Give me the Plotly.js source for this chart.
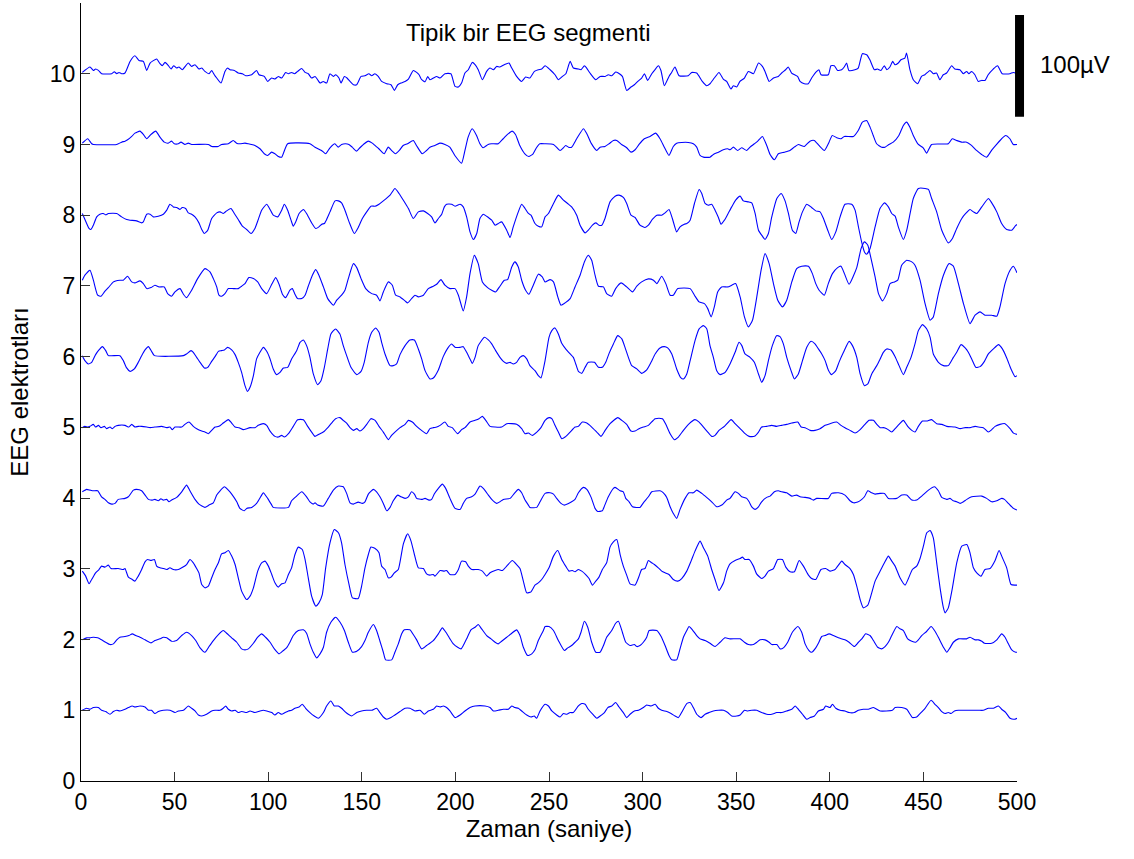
<!DOCTYPE html>
<html>
<head>
<meta charset="utf-8">
<script src="https://cdn.plot.ly/plotly-3.0.1.min.js"></script>
<style>html,body{margin:0;padding:0;background:#fff;}#chart{width:1134px;height:859px;}</style>
</head>
<body>
<div id="chart"></div>
<script>
// Each channel: [time (s), amplitude (µV)]
const ch10 = [[0.7,1.3],[4.8,6.7],[6.6,3.3],[7.8,4.7],[9.3,3.3],[11,0],[16.4,0],[17.8,2],[19.1,0],[20.3,1.3],[21.7,0],[23.5,0.7],[26.2,12.3],[28.8,18],[31,13.3],[33.3,12.3],[35.1,3.3],[36.9,10.7],[40.4,14.7],[42.2,10],[43.4,8],[44.9,11.3],[46.7,8],[48.1,4.7],[49.5,8],[51.1,5.7],[52.3,6.7],[54.1,4],[57.3,10.7],[59.1,7.3],[60.9,9],[63,4.7],[64.5,5.7],[66.2,2.3],[68.4,0],[69.8,3.3],[71.2,-1],[72.5,-4.3],[74.8,-9.3],[76.9,2.3],[78.3,5.7],[79.6,4],[81.9,3.3],[84,0.7],[86.2,0],[88,-2],[91.2,-1],[93.8,3.3],[95.1,-1],[97.9,-2.7],[99.7,-7.7],[101.8,-4.3],[103.6,-5.3],[105.4,-2.7],[107.2,-4.3],[109.3,1.3],[110.8,0],[112.5,1.3],[114,0],[115.7,2.3],[117.9,5.3],[119.7,1.3],[121.4,0],[123.2,-4.3],[125,-2.7],[126.4,-6],[127.7,-9.3],[129.4,-7.7],[131.2,-9.3],[133,0],[134.8,-2.7],[136,-1],[137.8,-4.3],[138.9,-9.3],[140.7,-2.7],[142.1,-4.3],[143.7,-7.7],[145.5,-11],[147.3,-11],[149.6,-2.7],[151.7,-2],[153.8,0],[155.3,-2],[157,0],[158.8,-2.7],[160.6,-7.7],[163.3,-10],[165.6,-11],[167.4,-16.7],[169.2,-11],[170.9,-9.3],[173.1,-7.7],[174.9,-5.3],[177.5,3.3],[179.3,1.3],[180.6,-1],[182,-6],[183.8,-8],[185.2,-2.7],[186.4,-6],[188.2,-4.3],[190,-2.7],[191.8,-4.3],[194.4,0],[197.6,0],[199.8,-12.7],[201.6,-13.3],[203.3,-9.3],[205.1,0.7],[206.9,4],[209,11.3],[210.5,9],[212.2,4],[214.4,-6],[216.7,2.3],[218.5,5.7],[220.3,4],[222,7.3],[223.8,6.7],[226.1,9],[228.6,10.7],[230.1,5.7],[232.7,-2.7],[235.4,-7.7],[237.5,-3.3],[239.8,-4.3],[242.2,2.3],[244.3,4],[246.1,4.7],[247.9,8],[250.6,4],[253.2,-1],[255,-6],[257.2,-2.7],[259,0],[261.3,12.3],[263,5.7],[265.7,4.7],[267.1,4],[268.9,8],[270.1,5.7],[271.9,0.7],[275,-6],[277.3,-2.7],[280,-2.7],[281.7,-1],[283.5,-2],[285.6,1.7],[287,0.7],[289.2,-2.7],[291.5,-16.7],[293.8,-13.3],[295.6,-11],[297.4,-7.7],[299.5,-4.3],[301,0],[302.7,-6.7],[304.9,0],[306.6,4],[308.4,8],[309.8,3.3],[311.6,-12],[314.1,-2.7],[315.5,1.3],[317.3,6.7],[319.5,-2],[324.4,-2],[326.2,1.3],[328.9,0.7],[331.9,-7.7],[334.2,-12],[336,-10],[338.3,-4.3],[340.8,1.3],[343.1,-5.3],[344.9,-7.7],[347.2,-15.3],[348.5,-12],[350.3,-13.3],[352,-7.7],[354.4,-4.3],[356.5,2.3],[359.2,0],[361.9,10.7],[364,7.3],[365.4,2.3],[367.6,-7.7],[369.9,-4.3],[372.5,-2.7],[374.3,0.7],[376.4,4],[377.8,6.7],[379.6,0.7],[382.8,-2.7],[384.1,-7.7],[386.4,-10],[388.5,-10],[390.3,-4.3],[393,2.3],[394.2,4],[395.3,-1],[399.2,-1],[400.6,8],[402.4,8],[404.2,3.3],[406.3,4],[407.7,6.7],[409,10.7],[410.2,3.3],[413.4,4],[415.2,5.7],[417.4,20],[419.7,19],[421.4,14],[423.8,4],[425.5,4.7],[427.3,3.3],[429.1,8],[430.5,4],[432.1,6.7],[433.6,12.3],[434.8,9],[436.6,10.7],[438,14],[440.1,15.7],[441,20.7],[442.8,4],[444.6,-6],[446.9,-10],[449,-2.7],[450.8,-1],[453.5,3.3],[455.3,0],[457,0.7],[458.8,-6],[460.6,-1],[462.4,0.7],[465.1,8],[466.8,4.7],[469.5,4],[471.3,0],[473.1,2.3],[474.3,0],[475.7,2.3],[477.5,-1],[479.3,-7.7],[481.1,-6.7],[482.9,-6.7],[484.6,-1],[487.3,4.7],[489.6,8],[492.1,0],[496.2,0],[498,1.3],[500,0]];

const ch9 = [[0.7,1.3],[3.6,5.7],[5.7,0.7],[6.6,0],[19,0],[21.7,2.3],[23.5,3.3],[24.9,4.7],[27.1,8],[28.8,11.3],[31.5,13.3],[33.3,10],[35.1,5.7],[37.4,10],[39.9,13.3],[42.2,7.3],[44.5,2.3],[46.6,1.3],[48.4,3.3],[49.8,0.7],[52,0.7],[53.4,2.3],[55.5,0],[57.3,1.3],[59.1,0],[68,0],[69.8,-2],[73.3,-2],[75.1,0],[78.7,0.7],[81.3,4],[83.1,1.3],[84.9,0.7],[87.6,1.3],[89.4,0.7],[91.1,0],[92.9,-1],[95.6,-4.3],[97.9,-9.3],[99.7,-11],[101.8,-7.7],[103.6,-9.3],[105.4,-12],[107.2,-12.7],[110.4,0.7],[122.3,0.7],[125,-2.7],[128.5,-6],[130.7,-9.3],[133,-3.3],[135.6,0.7],[137.4,-2.7],[139.2,0],[141.3,0.7],[143.1,0],[144.9,-2.7],[147.2,-6.7],[149,-3.3],[151.3,0.7],[153.4,3.3],[155.6,1.3],[157,-1],[159.1,-4.3],[162,-9.3],[164.1,-2.7],[166.3,-6.7],[168,-9.3],[170.3,-5.3],[172.1,-1],[174.4,0.7],[177.5,4],[179.2,-1],[182.3,-9.3],[184.6,-6],[186.4,-2.7],[189,-1],[191.7,1.3],[194.4,0],[197,-2.7],[199.7,-11],[203.3,-18.7],[205.1,-6],[206.8,7.3],[209,15.7],[211.3,9],[213.1,0.7],[214.8,-3.3],[217.5,0],[219.3,0.7],[222.9,0.7],[225.5,5.7],[227.8,10],[230.3,13.3],[232.1,10],[234.4,-1],[237.1,-9.3],[239.2,-12],[241.5,-9.3],[243.3,-3.3],[245.1,0.7],[247.9,0.7],[252.4,0],[255.9,-6],[257.7,-3.3],[258.9,-1],[260.4,-2.7],[262.1,-2.7],[264.8,5.7],[268.4,15.7],[270.2,10.7],[272.5,1.3],[275.5,-6],[277.3,-2.7],[279.9,-2],[282.1,0.7],[284.4,4],[286.2,4],[288.8,0],[291.5,-3.3],[293.8,-7.7],[296,-5.3],[298.1,0],[300.9,5.7],[304,8],[307,11.3],[309.3,5.7],[311.6,-2.7],[314.1,-11],[316.4,-2],[318.2,1.3],[320.9,2],[324.4,2],[327.1,0.7],[328.9,-2.7],[330.7,-11],[332.5,-12.7],[336,-12.7],[337.8,-10],[340.5,-7.7],[343.1,-5.3],[345.4,-4.3],[346.7,-5.3],[348.5,-2.7],[350.8,-6],[352.9,-3.3],[355.6,-6],[357.4,-2.7],[359.7,0.7],[361.5,3.3],[364,8],[366.3,-1],[368.1,-10],[370.4,-15.3],[372.5,-9.3],[375.7,-7.7],[378.7,-6],[381,-2.7],[383.2,0],[386.4,-2],[389.4,3.3],[391.7,4],[394.2,-1],[397.1,-6],[399.6,2.3],[401.3,9],[403.7,6.7],[406,5.7],[407.7,8],[412.6,8],[415.2,14],[417.4,22.3],[419.7,24],[421.5,17.3],[423.2,9],[425,0.7],[427.7,-2.7],[429.5,-2.7],[431.6,0],[433.9,2.3],[436.9,9],[439.3,19],[441,22.3],[442.8,17.3],[444.6,9],[447.3,0],[449.9,-3.3],[451.7,-8.7],[454.4,0],[463.3,0.7],[465.4,5.7],[467.7,4],[470.4,2.3],[473.1,2.3],[475.7,-1],[478.4,-6],[481.1,-10],[483.8,-12.7],[486.4,-6],[489.1,0],[491.8,5.7],[493.9,9],[496.2,5.7],[498,0],[500,0]];

const ch8 = [[0.7,1.7],[2.1,-4.3],[4.3,-13.3],[5.3,-14.3],[6.6,-10],[8.4,-1.7],[10.1,1],[11.9,1.7],[13.2,0.3],[14.6,1.7],[19.1,1.7],[21.7,-1.7],[24.4,-4.3],[26.2,-5],[29.7,-5.7],[32.4,-7.7],[33.3,-6.7],[35.1,1],[36.9,1],[38.6,-1.7],[41.3,-1],[44,1],[45.8,5],[47.5,11],[49.3,8.3],[51.1,7.7],[52.9,5.7],[54.1,7.7],[55.9,6.7],[57.3,2.3],[59.1,1],[60.9,-1.7],[63,-7.7],[64.5,-14.3],[65.9,-18.3],[67.7,-15],[69.8,-3.3],[72.5,2.3],[74.3,3.3],[76,1.7],[77.8,4.3],[80.1,6.7],[81.9,1.7],[84,-4.3],[86.2,-11],[88.5,-14.3],[90.8,-18.3],[92.9,-13.3],[94.7,-4.3],[96.5,5],[99.2,11],[101,5.7],[102.7,0],[105.1,-1.7],[107.2,5],[108.6,11],[110.4,5],[112.2,-5],[113.4,-11],[114.7,-6.7],[116.5,1.7],[118.8,5.7],[120.5,1.7],[123.2,-7.7],[125.4,-13.3],[127.1,-11.7],[128.6,-9],[130,-8.3],[131.2,-4.3],[133,3.3],[135.7,14.3],[137.5,14.3],[139.2,12.3],[141,5],[143.2,-6.7],[146,-18.3],[148.1,-12.3],[150.3,-3.3],[152.6,3.3],[154.9,9],[157.1,9],[159.2,11],[161.5,14.3],[165.1,20],[167.7,26.7],[169.9,21.7],[172.2,15],[174.9,6.7],[177.5,-3.3],[180.2,3.3],[182.9,4.3],[185.2,1.7],[187.3,-1.7],[189.1,-7.7],[190.9,-3.3],[192.7,1],[194.1,8.3],[195.3,11],[198,11],[199.8,9],[202.5,11],[204.2,8.3],[206,-1.7],[207.8,-16.7],[209.6,-24.3],[211.4,-18.3],[213.1,-3.3],[214.9,1],[217.6,-2.3],[219.4,-5],[221.2,-10],[222.9,-8.3],[224.7,-6.7],[227.4,-15],[229.2,-22.3],[230.9,-11.7],[233.6,3.3],[235.4,11],[237.2,6.7],[239,1.7],[240.4,0],[242.5,-8.3],[244.3,-11],[246.1,-11.7],[247.9,-1.7],[249.7,1.7],[252.4,11.7],[255,20],[257.7,15],[260.4,11],[262.1,8.3],[264.8,0],[266.6,-10],[269.3,-17.7],[271,-15],[273.2,-10],[275,-7.7],[276.7,-10],[278.2,-10],[279.9,-3.3],[282.6,13.3],[285.3,19],[287.4,20],[289.7,17.7],[291.5,11.7],[293.8,0],[296,-2.3],[298.6,-10],[301.3,-12.3],[303.1,-10],[305.2,-4.3],[307.6,0],[310.2,0],[312,2.3],[314.1,5.7],[315.9,-3.3],[318.2,-16.7],[320,-11.7],[322.3,-9],[323.6,-8.3],[325.4,-5],[327.7,11.7],[330.2,25.7],[331.6,21.7],[333.4,11.7],[335.1,10],[336.9,11],[338.7,5],[340.5,-2.3],[341.9,-9],[343.7,-5],[345.5,1],[347.6,8.3],[349.7,15],[352.1,19],[353.8,14.3],[356.5,13.3],[358.3,12.3],[360.1,1.7],[361.9,-15],[364,-21],[365.4,-24.3],[367.2,-18.3],[369,-1.7],[371.7,16.7],[374,21.7],[376.1,14.3],[377.9,1.7],[380,-15],[381.8,-18.3],[383.6,-6.7],[385.4,3.3],[387.7,11],[390.3,7.7],[392.5,4.3],[394.8,3.3],[396.6,-3.3],[398.9,-15],[401,-24.3],[403.2,-16.7],[405.5,-1.7],[408.1,11],[411.7,11],[413.5,5],[415.3,-11.7],[417,-26.7],[418.5,-36.7],[419.7,-39],[421.5,-33.3],[424.2,-11.7],[426.8,6.7],[429.2,12.3],[431.3,8.3],[433.1,1.7],[434.9,-1],[436.6,-11.7],[439.3,-24.3],[441.1,-15],[442.9,1.7],[444.6,16.7],[447.3,26.7],[450.9,26.7],[452.7,25.7],[454.4,16.7],[457.1,3.3],[459.8,-15],[463.3,-27.7],[465.5,-23.3],[467.8,-13.3],[470.5,-3.3],[472.6,1.7],[474.9,5.7],[476.7,3.3],[478.5,1.7],[481.2,8.3],[484.7,16.7],[486.5,12.3],[489.2,3.3],[491.8,-8.3],[494.5,-14.3],[497.2,-15],[499,-11],[500,-9.3]];

const ch7 = [[0.7,5.7],[2.1,10.7],[4.8,15.7],[6.6,5.7],[8.9,-9.3],[10.7,-10.3],[12.5,-6],[14.6,-1.7],[17.3,4],[18.5,5],[20.8,5.7],[22.6,5.7],[24.9,9.7],[27.1,4],[28.8,3],[31.5,5],[33.3,2.3],[35.1,-2.7],[37.4,-1.7],[39.5,0.7],[41.7,-1],[44.5,-1],[46.3,-7.7],[48.4,-10.3],[50.2,-6],[52.9,-2.7],[54.7,-8.3],[56.4,-11.7],[59.1,-4.3],[62.3,7.3],[66.2,17.3],[68.9,14],[70.7,7.3],[72.5,-1],[73.7,-9.3],[75.1,-10.3],[76.9,-7.7],[78.7,-2.7],[81.4,-2.7],[84,-2.7],[85.8,-0.3],[87.6,2.3],[89.7,8.3],[92.1,7.3],[94.4,4],[96.5,-2.7],[99.2,-7.7],[101.9,1.7],[104,8.3],[105.8,1.7],[107.6,-8.3],[109.3,-11.7],[111.6,-4.3],[112.9,-2.7],[114.3,-8.3],[115.7,-12.7],[117.9,-12.7],[119.7,-9.3],[121.4,-0.3],[123.6,10.7],[125.4,16.3],[127.1,10.7],[129.5,-1],[131.8,-12.7],[134.8,-19.3],[136.6,-14.3],[139.2,-9.3],[141,-4.3],[142.8,7.3],[145.5,22.3],[147.3,18.3],[149.6,7.3],[152.1,-2.7],[155.3,-7.7],[157.9,-9.3],[159.7,-15],[161.5,-6],[164.2,4],[166.3,0.7],[168.1,-9.3],[170.4,-11],[173.1,-15],[174.5,-17],[176.6,-12.7],[178.4,-9.3],[180.2,-11],[182.9,-9.3],[185.5,-2.7],[188.2,-0.3],[190,1.7],[192.3,6.3],[194.4,0.7],[197.1,-2.7],[199.8,-2.7],[201.6,-9.3],[204.2,-25],[206,-11],[207.8,12.3],[210.1,30.7],[212.2,22.3],[214.4,4],[217.2,-1.7],[219.4,-4.3],[221.5,-6],[223.8,-0.3],[226.1,5.7],[227.9,6.3],[230.1,19],[231.8,24],[233.6,19],[235.4,5.7],[237.5,-4.3],[239.3,-8.3],[241.6,0.7],[244.3,11.7],[246.4,9],[247.9,4],[250.6,6.3],[252.4,4],[254.7,-11],[256.4,-19.3],[258.6,-17],[261.3,-12.7],[263.9,-1],[266.6,10.7],[268.9,24],[271,30.7],[272.8,25.7],[274.6,10.7],[276.4,-0.3],[279.1,-1],[280.8,-7.7],[283.5,-10.3],[285.6,-2.7],[288.5,3],[291.5,-1],[294.6,-6],[296.9,-0.3],[299.5,4],[303.1,7],[305.8,5.7],[307.6,2.3],[310.2,9.7],[312.4,2.3],[314.7,-9.3],[316.4,-9.3],[318.8,-2.7],[325.4,-2.7],[327.7,-9.3],[330.2,-16],[333,-17.7],[334.8,-22.7],[336.6,-31],[338.3,-21],[340.1,-6],[342.2,-1],[345.5,-1],[347.6,0.7],[349.7,2.3],[352.1,-11],[354.4,-31],[356.5,-41],[358.7,-34.3],[361,-11],[363.3,15.7],[365.4,32.3],[367.6,22.3],[369.9,2.3],[372.2,-14.3],[374.7,-21],[377,-14.3],[379.7,4],[382.3,17.3],[385,19.7],[388.6,19.7],[390.7,12.3],[392.5,2.3],[394.3,-4.3],[397.1,-9.3],[399.2,2.3],[401.4,12.3],[404.2,18.3],[406,19.7],[407.8,12.3],[410.3,1.7],[414.4,18.3],[416.7,37.3],[418.5,44],[420.3,40.7],[421.5,31.7],[424.2,9],[426,-7.7],[428.1,-15],[430.4,-7.7],[432.2,2.3],[434.5,4],[436.3,5.7],[438.4,20.7],[441.1,25.7],[443.8,24],[445.5,20.7],[448.2,5.7],[450.9,-17.7],[453.6,-34.3],[455.3,-31],[458,-7.7],[460.7,10.7],[463.7,22.3],[466,19.7],[468.7,2.3],[471.4,-17.7],[474.9,-37.7],[477.6,-29.3],[480.3,-26],[482.9,-29.3],[486.5,-29.3],[489.2,-30.3],[490.9,-21],[493.6,2.3],[496.3,15.7],[498.1,19.7],[500,13]];

const ch6 = [[0.7,1],[2.1,-4],[3.9,-7.3],[5.7,-5.7],[7.8,2],[9.6,6.7],[11.4,10],[13.2,6],[14.6,1],[20.8,1],[22.6,-4],[24.4,-11.3],[26.2,-14.7],[28.5,-12.3],[30.6,-5.7],[32.4,1],[34.2,6.7],[36,10],[37.7,5.3],[39.2,1],[54.7,1],[56.4,2.7],[58.8,6],[60,4.3],[61.8,-0.7],[63.6,-5.7],[65.9,-11.3],[67.7,-10.7],[69.8,-4.7],[71.6,0],[73.4,5.3],[75.1,6],[76.6,6.7],[78.3,9.3],[80.5,6.7],[82.3,2],[84,-5.7],[85.8,-15.7],[87.6,-29],[88.9,-34.7],[90.3,-30.7],[92.1,-19],[93.8,-2.3],[95.6,4.3],[97.4,9.3],[99.2,5.3],[101,-2.3],[102.7,-12.3],[104.5,-18],[106.3,-15.7],[108.1,-11.3],[110.4,-10.7],[112.5,-2.3],[115.2,6],[117,14.3],[118.8,16.7],[120.5,11],[122.3,-0.7],[124.1,-17.3],[126.4,-28],[128.2,-24],[130,-10.7],[131.8,7.7],[133.5,22.7],[136,27.7],[138.3,22.7],[140.1,11],[141.9,1],[144.2,-10.7],[147.3,-18],[149.6,-14.7],[151.3,-5.7],[153.5,14.3],[155.3,24.3],[157.4,28.7],[159.2,24.3],[160.6,14.3],[162.4,2.7],[165.1,-9],[166.8,-9],[168.6,-7.3],[170.4,2],[173.1,11],[175.7,16.7],[178.1,16.7],[180.2,7.7],[182,-2.3],[183.8,-14],[186.4,-22.3],[188.2,-21.3],[190.9,-13.3],[193.5,0],[196.2,9.3],[198,12.7],[199.8,9.3],[202.5,9.3],[204.2,10],[206,4.3],[207.8,-2.3],[209,-6.7],[210.5,-0.7],[212.2,11],[215.5,19.3],[217.6,16.7],[219.4,12.7],[221.5,6],[223.8,-0.7],[225.6,-4.7],[227.4,-6.7],[229.2,-5.7],[230.9,-7.3],[232.7,-5.7],[234.5,-0.7],[236.3,1],[238.1,-2.3],[239.8,-9],[242.5,-14],[244.3,-19],[245.7,-21.3],[247.9,-4],[250,19.3],[251.5,26],[253.2,28.7],[255,22.7],[256.8,13.3],[258.9,7.7],[261.3,2.7],[263,-0.7],[264.3,-7.3],[265.7,-14.7],[267.5,-16.7],[269.3,-10.7],[271,-5.7],[274.3,-5.7],[276.4,-10.7],[278.5,-10.7],[280.3,-5.7],[282.1,3.3],[284.4,12.7],[286.7,21],[288.9,17.7],[290.6,9.3],[292.4,-0.7],[294.2,-9],[296.9,-12.3],[299.5,-16.7],[302.2,-13.3],[304.5,-5.7],[306.7,2.7],[309.3,8.7],[311.6,10],[313.4,8.7],[315.6,2.7],[318.2,-12.3],[320.5,-21.3],[321.8,-22.3],[323.6,-17.3],[325.4,-4],[328,16],[330.2,27.7],[332.5,31],[334.3,27.7],[336,11],[337.8,-0.7],[339.6,-14],[341.4,-18],[344.1,-15.7],[346.7,-7.3],[349.4,4.3],[351.5,14.3],[353,11],[354.7,2.7],[357.4,-0.7],[359.7,-5.7],[361.9,-17.3],[363.6,-25.7],[365.4,-19],[367.2,-4],[369.3,11],[371.6,21],[373.4,20],[375.2,12.7],[377,-0.7],[379.3,-14],[381.1,-22.3],[383.2,-17.3],[385.4,-4],[387.7,9.3],[390,15.3],[392.1,12.7],[393.9,7.7],[395.7,2.7],[397.5,-4],[399.2,-13.3],[401,-18],[403.2,-14],[404.9,-5.7],[407.3,4.3],[410.3,15.3],[412.1,11],[414.4,-0.7],[416.2,-17.3],[418.5,-29],[420.3,-27.3],[422.4,-17.3],[425.1,-9],[426.9,-2.3],[428.6,4.3],[430.4,7.7],[432.7,6.7],[434.9,0],[437,-9],[439.3,-18],[441.1,-10.7],[443.4,-0.7],[445.5,12.7],[447.3,26],[449.5,32],[451.8,27.7],[453.6,19.3],[455.3,2.7],[458,-5.7],[460.7,-9],[463.3,-9],[466,-0.7],[467.8,4.3],[470.1,12],[472.3,8.7],[474,4.3],[476.2,-4],[478,-10.7],[480.3,-10],[482.6,-4.7],[484.7,2.7],[487.4,7.7],[490.1,12],[492.2,7.7],[494.5,-1.3],[496.8,-12.3],[499,-20],[500,-19]];

const ch5 = [[0.7,-0.3],[2.1,1],[3.6,0.3],[4.8,1],[6.6,3],[7.8,0.3],[9.3,2],[10.7,-0.3],[12.5,1],[13.7,-1.3],[15.5,0.3],[16.7,-1.3],[18.2,1],[19.9,2],[23.5,2],[25.6,0.3],[27.1,3],[28.8,0.3],[30.6,1],[32.4,1],[35.1,0.3],[36.9,-0.3],[39.5,0.3],[43.1,1],[45.8,-0.3],[47.5,0.3],[48.8,-2.3],[50.2,0.3],[53.8,0.3],[55.5,3],[57.7,5.3],[60,1],[61.8,-1.3],[64.5,-3.7],[66.2,-4.7],[68,-6.3],[69.8,-3],[71.6,0.3],[73.7,1],[76,4.3],[78.7,7.7],[80.5,4.3],[82.3,0.3],[84.4,-0.3],[86.7,-2.3],[88.5,-1.3],[90.3,-0.3],[92.9,-0.3],[94.7,2],[97.4,3.7],[99.2,2],[101,-3.7],[103.6,-9],[105.4,-9.7],[107.2,-8],[108.6,-9.7],[110.8,-6.3],[113.4,1],[115.7,7.7],[118.8,7.7],[121.1,1],[123.2,-4.7],[125,-9],[127.7,-6.3],[129.4,-4.7],[132.1,0.3],[134.3,5.3],[136,8.7],[138.3,9.7],[140.1,7],[141.9,4.3],[143.7,-0.3],[145.5,-3],[147.3,-1.3],[149,-3.7],[150.8,-1.3],[152.6,3],[154.9,8.7],[157.1,7],[159.2,1],[161.5,-4.7],[164.2,-12.3],[165.9,-8],[167.7,-4.7],[170.4,-0.3],[173.1,3],[174.9,7],[177,5.3],[179.3,1],[181.9,-3],[184.6,-6.3],[186.4,-1.3],[188.2,-0.3],[190,0.3],[191.8,2],[194.4,5.3],[196.2,1],[198.3,-0.3],[201.2,-6.3],[203.3,-2.3],[205.1,-0.3],[207.8,5.3],[210.5,7],[212.6,8.7],[214.4,11],[216.2,7],[218.5,1],[221.2,0.3],[224.7,0.3],[227.4,3.7],[230.1,3.7],[232.7,3],[235.4,-1.3],[237.2,-6.3],[239,-5.7],[241.1,-8],[243.5,-4.7],[245.7,-0.3],[247.9,7],[250,9.7],[251.5,8.7],[253.2,2],[255,-4.7],[256.8,-11.3],[258.6,-9.7],[261.3,-4.7],[263.9,0.3],[265.7,1],[267.8,5.3],[270.2,4.3],[272.8,0.3],[275.5,-4.7],[277.8,-9],[280,-3],[282.6,3.7],[286.7,9.7],[288.9,7],[291.5,3],[293.8,-3.7],[296,-3.7],[298.1,-1.3],[300.4,0.3],[303.1,2],[306.7,8.7],[310.6,8.7],[312.4,3],[314.7,-6.3],[317,-12.3],[319.1,-9.7],[321.8,-3],[324.5,3],[328,7.7],[330.2,5.3],[332.5,0.3],[334.8,-4.7],[336.9,-9],[338.7,-8],[340.8,-3],[343.7,1],[347.3,7.7],[349.4,3.7],[352.1,-1.3],[354.4,-5.7],[356.9,-9],[359.7,-9],[361.9,-4.7],[363.6,0.3],[366.3,1],[369,2],[371.6,1],[374.3,2],[377,3],[379.7,4.3],[382.9,5.3],[384.7,0.3],[386.8,-0.3],[389.5,-3],[392.1,-3],[394.8,-1.3],[397.5,2],[400.1,3.7],[403.7,5.3],[406,2],[408.1,-0.3],[410.8,-3],[413.5,-5.7],[416.2,-2.3],[418.8,3],[421,7],[423.3,7],[425.1,3],[426.9,-0.3],[428.6,-0.3],[430.4,-1.3],[433.1,-4.7],[434.9,-1.3],[437,3],[439.3,7],[441.6,1],[443.8,-3],[445.5,-4.7],[447.3,1],[449.5,6.3],[451.8,6.3],[454.4,7.7],[457.1,3.7],[459.8,3],[462.5,1],[466.9,0.3],[469.6,-1.3],[472.3,-0.3],[474.9,-0.3],[477.6,1],[479.4,0.3],[482,-0.3],[484.7,-4.7],[486.5,-2.3],[488.3,1],[490.9,3],[493.6,3.7],[496.3,-1.3],[498.1,-5.7],[500,-7]];

const ch4 = [[0.7,6.3],[3,8.7],[4.8,8],[6.6,7.3],[8.9,7.3],[11,1.3],[12.8,-1.3],[14.6,-4.7],[16.4,-6],[18.2,-5.3],[19.9,-1.3],[23.5,-0.3],[25.3,1.3],[28,8],[29.7,8.7],[32.4,7.3],[34.2,3],[36,-1.3],[38.1,-2],[39.5,-1.3],[41.3,-2.7],[42.7,-0.7],[44,-2],[45.8,-1.3],[47,-3.7],[48.4,-2],[51.1,0.7],[53.8,6.3],[56.4,13],[58.2,7.3],[60.9,-1.3],[63,-6],[66.2,-9.3],[68.4,-7],[70.7,-4.7],[72.5,3],[74.3,7.3],[76.6,11.3],[78.7,8],[80.5,4],[83.2,-3.7],[84.9,-10.3],[87.2,-12.7],[88.5,-10.3],[91.2,-9.3],[93.8,-5.3],[96.5,3],[97.4,5.3],[99.7,-0.3],[101.9,-7],[102.7,-9.3],[110.8,-9.3],[112.5,-2.7],[115.2,2],[117.9,6.3],[120.5,1.3],[122.3,-3.7],[124.1,-6],[125,-4.7],[126.4,-7],[129.5,-8],[132.1,-0.3],[134.8,8],[137.5,12],[140.1,11.3],[141.9,4.7],[143.7,-4.7],[145.5,-6],[148.1,-4],[150.3,-5.3],[151.7,-3.7],[153.5,4],[156.2,8.7],[157.9,6.3],[159.7,1.3],[161.5,-5.3],[163.3,-12.7],[165.1,-9.3],[166.8,-2.7],[169.2,3],[170.9,1.3],[173.1,-0.3],[174.9,1.3],[176.6,6.3],[178.1,4],[179.3,-0.3],[182,-1.3],[183.8,-0.3],[185.9,-2],[187.3,-1.3],[188.7,4],[190.9,9.7],[193,14],[194.8,9.7],[197.1,-0.3],[199.8,-10.3],[202.5,-11.3],[204.2,-5.3],[206,-0.3],[208.7,1.3],[210.5,4],[213.1,12],[214.9,9.7],[217.6,3],[219.4,-1.3],[222,-5.3],[223.8,-3.7],[225.6,-1.3],[229.2,-0.3],[231.5,4.7],[233.6,8.7],[235.4,5.3],[237.2,-2],[239,-7],[239.8,-9.3],[243.4,-9.3],[245.2,-3.7],[247.9,4.7],[250.6,5.3],[252.4,4],[254.1,-0.3],[256.4,-5.3],[258.2,-7],[260.4,-5.3],[262.1,-3.7],[263.9,-1.3],[265.7,5.3],[268.4,10.7],[270.2,8.7],[272.5,0.7],[274.6,-10.3],[276,-13.3],[278.5,-12.7],[279.6,-8],[281.7,1.3],[284.4,9.7],[285.3,10.7],[288,7.3],[289.7,6.3],[291,-0.3],[292.8,-3.7],[294.6,-8.7],[298.6,-9.3],[300.4,-4.7],[303.1,1.3],[304.9,6.3],[309.3,7.3],[311.1,5.3],[312.9,0.7],[314.7,-8.7],[316.4,-15.3],[318.2,-20.3],[320,-11.3],[322.7,-0.3],[324.8,5.3],[327.1,5.3],[328.9,8],[331.6,4.7],[334.2,0.7],[336.9,-3.7],[339.6,-8.7],[342.3,-7],[344.9,-2],[346.7,-0.3],[349.4,6.3],[351.2,4.7],[352.9,1.3],[355.6,-0.3],[356.9,-3.7],[358.3,-8.7],[360.1,-11.3],[361.9,-8.7],[363.6,-3.7],[366.3,0.7],[368.1,2],[370.4,6.3],[372.5,7.3],[374.3,6.3],[377,5.3],[379.7,2],[382.3,3],[384.1,1.3],[386.8,0.7],[389.5,-0.3],[391.2,-2],[393,-0.3],[399.2,-0.3],[401,4.7],[404.6,5.3],[408.1,3],[410.8,-2.7],[412.6,-4.7],[414.9,-4],[417.1,-1.3],[418.5,1.3],[420.3,7.3],[422.4,5.3],[424.2,4],[426.9,4.7],[429.2,4.7],[431.3,-0.3],[435.8,-0.3],[438.4,3],[441.1,3],[443.8,-2],[446.4,-2],[449.1,2],[452.7,8],[455.9,11.3],[458,7.3],[459.8,0.7],[462.4,-1.3],[464.2,-0.3],[466,-2.7],[467.8,-3.7],[469.6,-5.3],[471.4,-3.7],[473.2,-1.3],[475.8,1.3],[481.2,2],[483.8,-0.3],[486.5,-3.7],[489.2,-2.7],[491.8,-0.3],[493.3,-1.3],[495.4,-5.3],[498.1,-10.3],[500,-12]];

const ch3 = [[0.7,-2.3],[2.5,-7.3],[4.3,-15],[5.7,-10.7],[7.8,-4],[9.6,-0.7],[11,2.7],[12.8,1.7],[14.6,3.7],[16,0.3],[19.9,0.3],[22.6,-0.7],[23.5,0.3],[25.3,-8.3],[27.4,-10.7],[28.8,-12.3],[30.6,-7.3],[32.4,-0.7],[34.2,7],[35.6,9.3],[37.4,8.3],[39.2,9.3],[40.4,2.7],[42.2,1],[44,0.3],[45.8,-0.7],[47.5,1],[49.3,-0.7],[52,-0.7],[53.8,1],[56.4,4.3],[58.2,9.3],[60,6],[61.8,0.3],[63,-4],[64.5,-15.7],[66.2,-19],[68,-17.3],[69.8,-9],[71.6,-0.7],[73.4,6],[75.1,15],[76.9,16],[78.7,18.3],[80.5,12.7],[82.3,4.3],[84,-9],[85.8,-22.3],[88.5,-30.7],[90.3,-27.3],[92.1,-19],[94.4,-2.3],[96.5,6],[98.3,7.7],[100.1,2.7],[101.9,-5.7],[103.6,-14],[105.4,-18.3],[107.2,-15],[109,-14],[110.8,-5.7],[112.5,1],[114.3,14.3],[116.1,21.7],[118.2,19.3],[119.7,9.3],[121.4,-9],[123.2,-27.3],[125.4,-37.3],[127.1,-34],[128.9,-25.7],[130.7,1],[133,26],[135.3,39.3],[137.5,36],[139.2,26],[141,4.3],[143.2,-15.7],[145,-29],[148.1,-29.7],[149.9,-17.3],[151.7,1],[153.5,14.3],[154.9,21.7],[157.1,20.3],[159.2,16],[160.6,2.7],[162.4,-0.7],[164.2,-9],[165.6,-8.3],[167.4,-4],[169.5,-0.7],[172.2,25],[174.5,35],[176.3,27.7],[178.1,14.3],[180.2,1],[182.9,0.3],[184.6,-5],[186.4,-6.3],[188.2,-5.7],[189.1,-7.3],[191.8,-1.7],[194.1,-2.3],[195.3,-1.7],[197.1,-5.7],[199.8,-5.7],[201.6,-0.7],[203.3,7.7],[205.5,7],[206.9,2.7],[208.7,-0.7],[212.2,-0.7],[214.4,-2.3],[216.7,-7.3],[218.5,-4],[221.2,-1.7],[222.9,-0.7],[225.1,-1.7],[227.4,2.7],[230.4,8.3],[232.7,4.3],[234.5,0.3],[236.3,-12.3],[238.1,-24],[240.4,-23],[242.5,-16.3],[244.3,-14],[246.1,-10.7],[247.9,-5.7],[250,1],[252.4,12.7],[254.7,18.3],[256.8,9.3],[258.9,2.7],[260.7,-2.3],[262.5,-1.7],[263.9,-3],[265.7,-0.7],[267.5,-2.3],[269.6,-5.7],[271.4,-9.7],[273.2,-16.3],[275,-12.3],[276.7,-8.3],[278.5,-0.7],[280.8,6],[282.6,21.7],[284.4,27],[286.2,29.3],[288,14.3],[289.7,2.7],[291.5,-6.3],[293.3,-15],[296,-16.3],[297.8,-9],[299.5,-0.7],[301.3,0.3],[303.1,8.3],[304.9,6],[306.3,4.3],[308.4,1],[310.2,-2.3],[312,-4],[314.1,-5.7],[316.4,-10.7],[318.8,-12.3],[320.9,-9.7],[323.6,-2.3],[325.9,7.7],[328,17.7],[330.7,27.7],[332.5,21],[334.8,12.7],[336.9,-0.7],[338.7,-10.7],[340.8,-21.7],[343.2,-14],[344.9,-2.3],[346.7,5],[349.4,8.3],[352.1,10.3],[353.3,11.7],[354.7,9.3],[356.9,9.3],[359.2,2.7],[360.9,-5],[363.6,-9.7],[365.4,-7.3],[367.2,-2.3],[369.9,0.3],[372.2,9.3],[374.7,9.3],[376.5,1.7],[378.8,-3],[381.1,-3],[383.6,8.3],[385.9,2.7],[388.6,-6.3],[390.3,-9.7],[392.5,-10.7],[395.3,-0.7],[397.8,0.3],[400.1,-2.3],[402.8,-0.7],[406.4,7.7],[408.1,4.3],[410.8,0.3],[412.6,-5.7],[414.4,-17.3],[416.2,-30.7],[417.9,-39],[420.3,-36.3],[422.4,-24],[424.2,-12.3],[426.9,-2.3],[429.2,6],[431.3,12.7],[433.1,7.7],[434.9,2.7],[437.5,-9],[440.2,-16.3],[442,-9.7],[444.1,-0.7],[446.4,2.7],[448.2,10.3],[450,22.7],[451.8,36],[453.6,38.3],[455.3,31],[457.1,6],[458.9,-19],[460.7,-39],[461.6,-44],[463.3,-39],[465.5,-19],[467.8,6],[470.5,22.7],[473.2,24.3],[474.9,16],[476.7,1],[478.5,-4],[480.8,-7.3],[482.9,-0.7],[485.6,0.3],[488.3,8.3],[490.4,18.3],[492.2,11],[494.5,1],[496.8,-15.7],[499,-16.3],[500,-16.3]];

const ch2 = [[0.7,-0.3],[3,1.7],[4.8,1.7],[6.6,2.3],[8.9,1.7],[11,-0.3],[13.2,-2.7],[15.5,-5],[17.3,-4.3],[19.1,-0.3],[20.8,2.3],[23.5,3],[25.6,4],[27.4,5.7],[29.2,4],[31.5,2.3],[34.2,-0.3],[37.4,-3.3],[39.5,-1],[42.2,0.7],[44,2.3],[45.8,1.7],[48.4,-1.7],[51.1,-1],[53.8,4],[56.4,7.3],[59.1,4],[61.3,-1],[63.6,-8.3],[66.2,-12.7],[68.4,-7],[70.7,-1],[73.4,5],[76,9],[77.8,6.3],[80.5,1.7],[83.2,-2.7],[85.8,-9.3],[87.6,-10.3],[89.4,-9.3],[92.1,-3.7],[94.4,2.3],[96.5,5.7],[98.6,2.3],[101,-2.7],[103.3,-9.3],[105.8,-14.3],[108.1,-11],[109.8,-8.3],[111.6,-2.7],[113.4,4],[116.1,9],[118.8,9.7],[120.5,6.3],[122.3,-4.3],[124.1,-12.7],[125.9,-18.3],[127.7,-14.3],[129.5,-7.7],[131.2,7.3],[133.5,17.3],[136,22.3],[138.4,17.3],[140.7,9],[142.8,-2.7],[145,-12.7],[147.3,-11.7],[149.9,-7],[151.7,-1],[153.5,7.3],[156.2,15],[157.9,9],[159.7,-1.7],[161.5,-12.7],[162.7,-20.3],[166,-20.3],[167.7,-12.7],[169.5,-4.3],[171.3,5.7],[172.7,9.7],[175.7,9.7],[177.5,5],[179.3,-0.3],[182,-9.3],[184.6,-6],[188.2,-1],[190.9,5.7],[193,11.7],[195.3,6.3],[197.1,0.7],[198.9,-4.3],[201.2,-7.7],[203,-9.3],[204.2,-6],[206,0.7],[208.3,9.7],[210.5,12.3],[212.2,15],[214,10.7],[216.7,4],[219,0.7],[221.2,-2.7],[222.9,-4.3],[224.7,-1.7],[227.4,2.3],[230.1,6.3],[232.7,9.7],[234.5,4],[236.3,-7.7],[238.6,-16],[240.8,-14.3],[242.5,-10.3],[244.3,-1],[247,9],[247.9,13],[250,13],[252.4,9],[255,-1],[258.2,-11],[260,-8.3],[262.1,-6],[263.9,-2.7],[265.7,0.7],[267.1,7.3],[268.9,18.3],[270.7,12.3],[272.8,-2.7],[275,-12.7],[277.3,-12.7],[279.1,-6],[280.8,2.3],[283.5,9],[285.6,16.3],[287.1,18.3],[289.2,7.3],[291,-2.7],[293.3,-6],[295.6,-5],[296.9,-7],[298.6,-6],[300.4,-2.7],[302.2,2.3],[303.5,9],[307.6,9],[309.9,3],[312,-6],[314.1,-16],[315.6,-20.3],[318.2,-20.3],[320,-9.3],[321.8,2.3],[323.6,9],[324.8,13],[326.6,9.7],[328.9,4],[330.7,0.7],[333.4,-1],[336,-3.7],[338.7,-7],[341.4,-2.7],[344,1.7],[346.7,0.7],[352.1,0.7],[354.4,-2.7],[356.5,-5],[359.2,-5],[361,-2.7],[362.8,-0.3],[365.4,-0.3],[367.6,-2.7],[369,-5],[371.7,-5],[373.5,-9.3],[375.2,-8.3],[377.5,-2.7],[380,7.3],[382.9,13],[385,7.3],[386.8,-4.3],[388.9,-11],[390.3,-12.7],[392.5,-8.3],[393.9,-3.7],[395.7,3],[397.5,4],[399.6,5.7],[401.9,4],[404.6,1.7],[408.1,-0.3],[410.3,-2.7],[413.1,-7],[415.3,-2.7],[417.1,0.7],[419.2,5.7],[421.5,4],[423.3,-1],[425.6,-7.7],[427.7,-9.3],[429.5,-7],[431.3,-2.7],[433.1,4],[435.8,13],[437.5,10.7],[439.3,9],[441.6,0.7],[443.8,-1.7],[445.9,-2.7],[447.3,-0.3],[449.1,4],[451.8,8.3],[454.1,13],[456.2,8.3],[458.4,0.7],[460.7,-7.7],[462.5,-12.7],[464.2,-8.3],[466,-2.7],[468.7,0.7],[473.1,0.7],[474.9,2.3],[477.6,-0.3],[479.4,-0.3],[481.2,-1.7],[482.6,-3.7],[486.5,-3.7],[489.2,-0.3],[491.8,5.7],[493.6,2.3],[495.4,-4.3],[497.2,-10.3],[499.3,-12.7],[500,-12.7]];

const ch1 = [[0.7,0],[3,2],[4.8,1],[6.6,2.7],[9.3,2.7],[11,0],[13.2,-1.3],[15.5,-4],[17.3,-1.3],[19.1,0],[20.8,-0.7],[23.5,1],[25.3,2.7],[27.4,4.3],[28.8,3.3],[31.5,4.3],[34.2,3.3],[36,0],[37.7,0],[39.5,-3.3],[41.3,-1.3],[44,0],[47.5,0],[50.2,-2.3],[52,-0.7],[54.7,0],[57.3,4.3],[59.1,2],[60.9,-0.7],[62.7,-4.7],[64.5,-5.7],[67.1,-4],[69.8,-0.7],[71.6,0],[74.3,0],[76,2],[77.3,4.3],[78.7,1],[80.5,-0.7],[82.3,0],[84,-2.3],[85.8,-1.3],[88.5,-2.3],[90.3,-0.7],[92.9,-2.3],[95.6,-0.7],[97.4,0],[99.2,-0.7],[101.9,-2.3],[103.6,-4.7],[105.4,-2.3],[107.2,-4],[109,-2.3],[110.8,-0.7],[112.5,0],[114.3,2],[116.5,3.3],[118.2,6],[120,2],[122.3,-2.3],[124.6,-5.7],[126.8,-8],[129.5,-2.3],[131.2,4.3],[133.5,9.3],[135.3,4.3],[137.5,4.3],[139.2,2],[141,-1.3],[142.8,-4],[144.6,-5.7],[147.3,-2.3],[149.9,-0.7],[152.6,0],[155.3,0],[157.9,2],[159.7,-2.3],[161.5,-6.7],[163.3,-9],[165.6,-7.3],[167.7,-4.7],[170.4,-1.3],[173.1,2],[175.7,2],[178.4,-0.7],[181.1,0],[183.4,-4],[185.5,-0.7],[188.2,1],[190,4.3],[191.8,3.3],[193.6,4.3],[195.3,2.7],[197.1,-0.7],[199.8,-7.3],[202.5,-4.7],[205.1,-0.7],[207.8,2.7],[210.5,4.3],[215.8,4.3],[218.5,2.7],[220.3,-0.7],[222.9,0],[225.6,1],[228.3,1],[230.1,4.3],[231.8,2.7],[233.6,2],[235.4,-0.7],[238.1,-4.7],[240.4,-6.7],[242.1,-5.7],[243.4,-8],[245.2,-0.7],[247.9,6],[249.7,4.3],[251.5,-0.7],[254.1,-4.7],[255.9,-6.7],[257.7,-3.3],[259.5,-4],[261.3,-2.3],[263,-2.3],[265.7,4.3],[267.5,6.7],[269.3,6],[271,1],[273.7,-4.7],[275.5,-8],[277.3,-5.7],[279.6,-2.3],[281.4,2.7],[283.5,4.3],[285.6,7.7],[287.4,3.3],[289.7,-2.3],[291.5,-7.3],[293.3,-4],[295.6,-0.7],[297.8,0],[300.4,2.7],[302.2,5.3],[304.5,4.3],[306.7,6],[308.4,2],[310.2,0],[312.9,-1.3],[315.2,-3.3],[317.3,-5.7],[319.1,-7.3],[321.3,-0.7],[323.6,6.7],[325.4,7.7],[327.1,2.7],[328.9,-4],[331.2,-7.3],[333.4,-4],[335.5,-2.3],[337.8,-0.7],[340.5,0],[343.2,0],[345.5,-2.3],[347.6,-5.7],[350.3,-5.7],[352.1,-4.7],[354.4,0],[356.2,-0.7],[358.3,0],[361,0],[363.6,-2.3],[366.3,-4],[369,-4],[371.6,-2.3],[374.3,-2.3],[377,-0.7],[379.7,1],[381.5,4.3],[383.2,1],[385.4,-4],[387.7,-9],[389.5,-7.3],[391.8,-5.7],[393.9,-0.7],[396.6,1],[397.8,4.3],[400.1,2.7],[401.4,6],[403.2,2],[405.5,0],[408.1,-0.7],[410.3,-2.3],[413.1,-2.3],[415.3,0],[417.9,1],[420.6,1],[423.3,2.7],[426.9,-0.7],[433.4,0],[434.9,2.7],[438.4,2.7],[441.1,1],[442.9,-4],[444.1,-7.3],[446.4,-6.7],[448.2,-3.3],[450.9,2],[454.1,10],[456.2,6],[458,2.7],[459.8,-1.3],[461.6,-3.3],[463.3,-2.3],[464.8,-3.3],[466.6,-0.7],[468.7,0],[479.4,0],[482,0],[484.7,2],[487.4,2],[490.1,4.3],[491.8,1],[494,-2.3],[496.3,-8],[498.6,-9],[500,-8]];

const channels = [ch1, ch2, ch3, ch4, ch5, ch6, ch7, ch8, ch9, ch10];
const channelLevels = [1, 2, 3, 4, 5, 6, 7, 8, 9, 10];
const UV_PER_UNIT = 70.7;           // vertical display gain (µV per channel spacing)
const xTicks = [0, 50, 100, 150, 200, 250, 300, 350, 400, 450, 500];
const yTicks = [0, 1, 2, 3, 4, 5, 6, 7, 8, 9, 10];
const scaleBarY = [9.39, 10.83];    // 100 µV calibration bar
const titleText = 'Tipik bir EEG segmenti';
const scaleText = '100µV';

const FONT = 'Liberation Sans, Arial, Helvetica, sans-serif';

const traces = channels.map((ch, i) => ({
  type: 'scatter',
  mode: 'lines',
  x: ch.map(p => p[0]),
  y: ch.map(p => channelLevels[i] + p[1] / UV_PER_UNIT),
  line: {color: '#0000ff', width: 1.1, shape: 'spline', smoothing: 0.5},
  hoverinfo: 'skip',
  showlegend: false
}));

const layout = {
  width: 1134,
  height: 859,
  margin: {l: 81, r: 117, t: 3, b: 78, pad: 0},
  paper_bgcolor: '#ffffff',
  plot_bgcolor: '#ffffff',
  showlegend: false,
  font: {family: FONT, size: 24, color: '#000'},
  xaxis: {
    range: [0, 500],
    tickvals: xTicks,
    ticktext: xTicks.map(String),
    ticks: 'inside',
    ticklen: 9,
    tickwidth: 1,
    tickcolor: '#333',
    showline: true,
    linecolor: '#000',
    linewidth: 1,
    showgrid: false,
    zeroline: false,
    tickfont: {family: FONT, size: 23, color: '#000'},
    title: {text: 'Zaman (saniye)', font: {family: FONT, size: 24, color: '#000'}, standoff: 4}
  },
  yaxis: {
    range: [0, 11],
    tickvals: yTicks,
    ticktext: yTicks.map(String),
    ticks: 'inside',
    ticklen: 9,
    tickwidth: 1,
    tickcolor: '#333',
    showline: true,
    linecolor: '#000',
    linewidth: 1,
    showgrid: false,
    zeroline: false,
    tickfont: {family: FONT, size: 23, color: '#000'},
    title: {text: 'EEG elektrotları', font: {family: FONT, size: 24, color: '#000'}, standoff: 14}
  },
  shapes: [{
    type: 'line', xref: 'paper', yref: 'y',
    x0: 1.0027, x1: 1.0027, y0: scaleBarY[0], y1: scaleBarY[1],
    line: {color: '#000', width: 9}
  }],
  annotations: [
    {text: titleText, xref: 'x', yref: 'y', x: 239.3, y: 10.58, showarrow: false,
     xanchor: 'center', yanchor: 'middle', font: {family: FONT, size: 24, color: '#000'}},
    {text: scaleText, xref: 'paper', yref: 'y', x: 1.022, y: 10.13, showarrow: false,
     xanchor: 'left', yanchor: 'middle', font: {family: FONT, size: 24, color: '#000'}}
  ]
};

Plotly.newPlot('chart', traces, layout, {displayModeBar: false, staticPlot: true});
</script>
</body>
</html>
